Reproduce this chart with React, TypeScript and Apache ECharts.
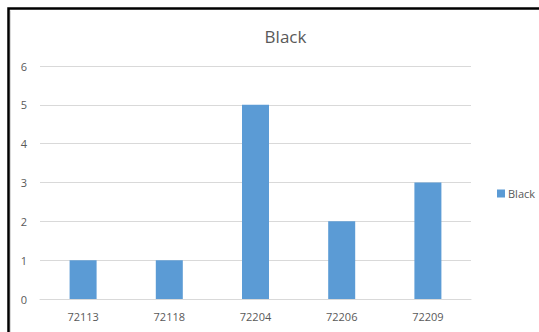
import React, { useEffect, useRef } from "react";
import * as echarts from "echarts";

const categories = ["72113", "72118", "72204", "72206", "72209"];
const blackValues = [1, 1, 5, 2, 3];
const yTicks = { min: 0, max: 6, interval: 1 };

export default function App() {
  const ref = useRef<HTMLDivElement>(null);

  useEffect(() => {
    document.body.style.margin = "0";
    if (!ref.current) return;
    const chart = echarts.init(ref.current, undefined, { renderer: "svg" });
    const font = "'Open Sans', 'Liberation Sans', sans-serif";
    chart.setOption({
      animation: false,
      backgroundColor: "#ffffff",
      textStyle: { fontFamily: font },
      title: {
        text: "Black",
        left: 280.5,
        top: 23,
        textAlign: "center",
        textStyle: { fontSize: 17, fontWeight: "normal", color: "#595959", fontFamily: font },
      },
      legend: {
        data: ["Black"],
        left: 492,
        top: 183,
        icon: "rect",
        itemWidth: 8,
        itemHeight: 8,
        itemGap: 4,
        textStyle: { fontSize: 11, color: "#595959", fontFamily: font, padding: [0, 0, 0, -2] },
      },
      grid: { left: 40, right: 68, top: 66, bottom: 33, containLabel: false },
      xAxis: {
        type: "category",
        data: categories,
        axisLine: { lineStyle: { color: "#d9d9d9" } },
        axisTick: { show: false },
        axisLabel: { color: "#595959", fontSize: 11, margin: 12, fontFamily: font },
      },
      yAxis: {
        type: "value",
        min: yTicks.min,
        max: yTicks.max,
        interval: yTicks.interval,
        axisLine: { show: false },
        axisTick: { show: false },
        splitLine: { lineStyle: { color: "#d9d9d9" } },
        axisLabel: { color: "#595959", fontSize: 11, margin: 13, fontFamily: font },
      },
      series: [
        {
          name: "Black",
          type: "bar",
          data: blackValues,
          barWidth: 27,
          itemStyle: { color: "#5b9bd5" },
        },
      ],
      graphic: [
        {
          type: "line",
          shape: { x1: 10.5, y1: 10.5, x2: 10.5, y2: 340 },
          style: { stroke: "#d9d9d9", lineWidth: 1 },
        },
        {
          type: "rect",
          shape: { x: 8.5, y: 8.5, width: 600, height: 400 },
          style: { fill: "none", stroke: "#000000", lineWidth: 2.5 },
        },
      ],
    });
    return () => chart.dispose();
  }, []);

  return <div ref={ref} style={{ width: 539, height: 332 }} />;
}
